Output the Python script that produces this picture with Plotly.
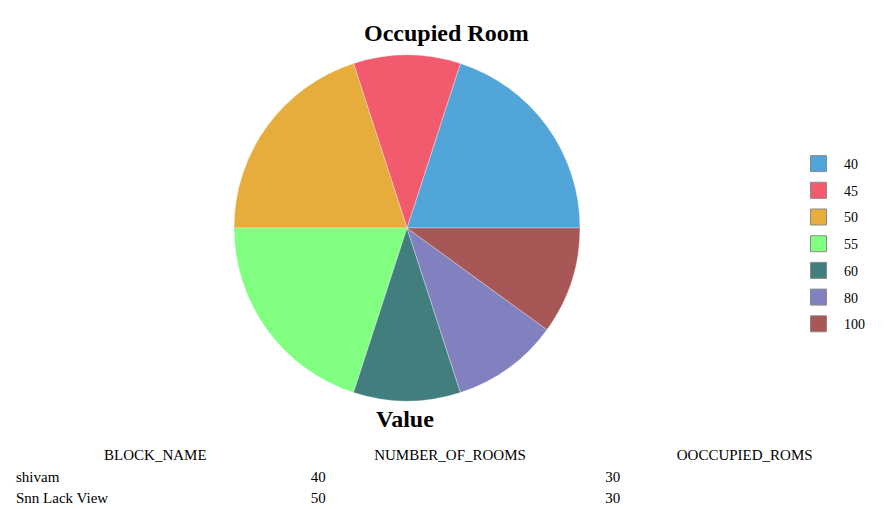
import plotly.graph_objects as go

labels = ["40", "45", "50", "55", "60", "80", "100"]
values = [2, 1, 2, 2, 1, 1, 1]
colors = ["#51A5D8", "#F25A6E", "#E6AD3C", "#80FF80", "#427E7E", "#8181C0", "#A85757"]

table_headers = ["BLOCK_NAME", "NUMBER_OF_ROOMS", "OOCCUPIED_ROMS"]
block_names = ["shivam", "Snn Lack View"]
number_of_rooms = ["40", "50"]
occupied_rooms = ["30", "30"]

W, H = 884, 509
OFF = 8  # page body margin
FONT = "Liberation Serif"


def px(x):
    return (x - OFF) / W


def py(y):
    return 1 - (y - OFF) / H


fig = go.Figure()
fig.add_trace(go.Pie(
    labels=labels, values=values, sort=False, direction="counterclockwise",
    rotation=18, textinfo="none", hoverinfo="label+value",
    marker=dict(colors=colors, line=dict(color="rgba(255,255,255,0.6)", width=0.5)),
    domain=dict(x=[px(234), px(580)], y=[py(401), py(55)]),
    showlegend=False,
))
for lab, col in zip(labels, colors):
    fig.add_trace(go.Scatter(
        x=[None], y=[None], mode="markers", name=lab, legendgroup=lab,
        marker=dict(symbol="square", size=20, color=col, line=dict(color="#8a8a8a", width=1)),
        showlegend=True,
    ))

fig.add_trace(go.Table(
    domain=dict(x=[0, 1], y=[0, py(441)]),
    columnwidth=[1, 1, 1],
    header=dict(values=table_headers, align="center", fill_color="white",
                line=dict(width=0, color="white"), height=22,
                font=dict(family=FONT, size=15, color="black")),
    cells=dict(values=[block_names, number_of_rooms, occupied_rooms], align="left",
               fill_color="white", line=dict(width=0, color="white"), height=21,
               font=dict(family=FONT, size=15, color="black")),
))

fig.update_layout(
    width=W, height=H, margin=dict(l=0, r=0, t=0, b=0),
    paper_bgcolor="white", plot_bgcolor="white",
    font=dict(family=FONT, color="black"),
    xaxis=dict(visible=False), yaxis=dict(visible=False),
    legend=dict(x=px(793), y=py(148), xanchor="left", yanchor="top",
                font=dict(family=FONT, size=14, color="black"),
                tracegroupgap=5.5, itemsizing="trace", itemwidth=41),
    annotations=[
        dict(text="<b>Occupied Room</b>", x=px(446), y=py(33), xref="paper", yref="paper",
             xanchor="center", yanchor="middle",
             showarrow=False, font=dict(family=FONT, size=24, color="black")),
        dict(text="<b>Value</b>", x=px(405), y=py(419), xref="paper", yref="paper",
             xanchor="center", yanchor="middle",
             showarrow=False, font=dict(family=FONT, size=24, color="black")),
    ],
)
fig.write_html("out.html")
